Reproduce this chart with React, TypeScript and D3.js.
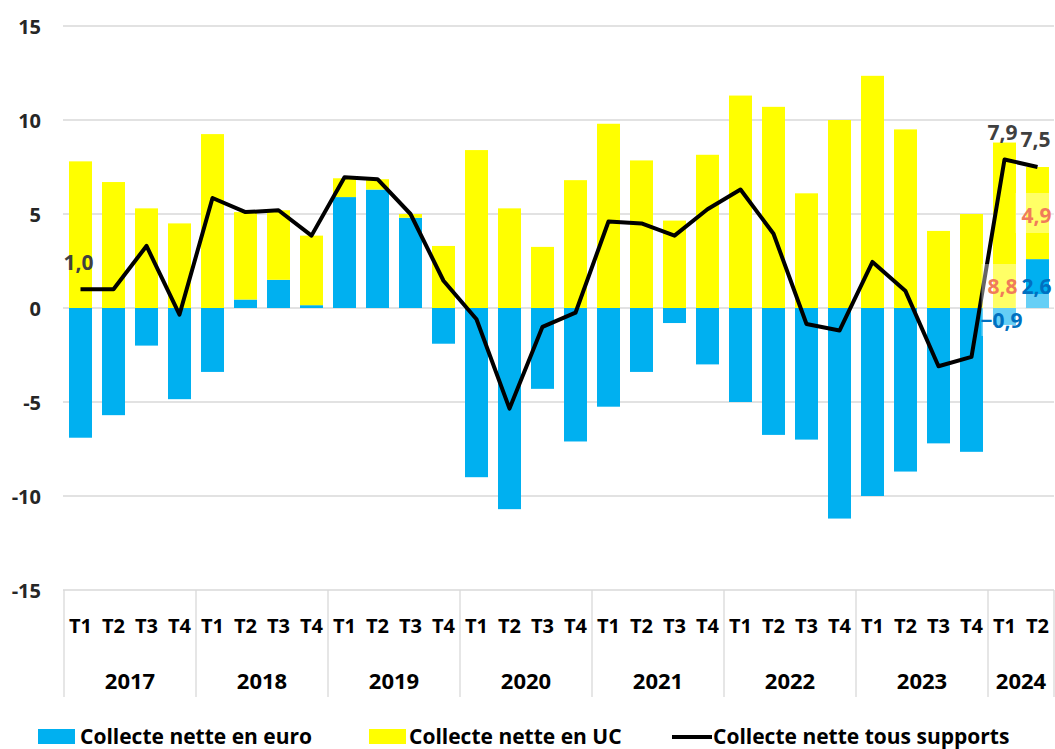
import React from "react";
import * as d3 from "d3";

const categories = [
  "2017 T1", "2017 T2", "2017 T3", "2017 T4",
  "2018 T1", "2018 T2", "2018 T3", "2018 T4",
  "2019 T1", "2019 T2", "2019 T3", "2019 T4",
  "2020 T1", "2020 T2", "2020 T3", "2020 T4",
  "2021 T1", "2021 T2", "2021 T3", "2021 T4",
  "2022 T1", "2022 T2", "2022 T3", "2022 T4",
  "2023 T1", "2023 T2", "2023 T3", "2023 T4",
  "2024 T1", "2024 T2",
];
const years = ["2017", "2018", "2019", "2020", "2021", "2022", "2023", "2024"];

const euro = [
  -6.9, -5.7, -2.0, -4.85,
  -3.4, 0.45, 1.5, 0.15,
  5.9, 6.3, 4.8, -1.9,
  -9.0, -10.7, -4.3, -7.1,
  -5.25, -3.4, -0.8, -3.0,
  -5.0, -6.75, -7.0, -11.2,
  -10.0, -8.7, -7.2, -7.65,
  -0.9, 2.6,
];
const uc = [
  7.8, 6.7, 5.3, 4.5,
  9.25, 4.65, 3.7, 3.7,
  1.0, 0.55, 0.2, 3.3,
  8.4, 5.3, 3.25, 6.8,
  9.8, 7.85, 4.65, 8.15,
  11.3, 10.7, 6.1, 10.0,
  12.35, 9.5, 4.1, 5.0,
  8.8, 4.9,
];
const total = [
  1.0, 1.0, 3.3, -0.35,
  5.85, 5.1, 5.2, 3.85,
  6.95, 6.85, 5.0, 1.45,
  -0.6, -5.35, -1.0, -0.25,
  4.6, 4.5, 3.85, 5.25,
  6.3, 3.95, -0.85, -1.2,
  2.45, 0.9, -3.1, -2.6,
  7.9, 7.5,
];
const yTicks = [-15, -10, -5, 0, 5, 10, 15];

const seriesNames = ["Collecte nette en euro", "Collecte nette en UC", "Collecte nette tous supports"];
const seriesColors = ["#00B0F0", "#FFFF00", "#000000"];

// indices of labelled points
const totalLabelIdx = [0, 28, 29];
const ucLabelIdx = [28, 29];
const euroLabelIdx = [28, 29];

const W = 1055;
const H = 749;
const FONT = "'Open Sans', 'Liberation Sans', Arial, sans-serif";

const fmt = (v: number) => d3.format(".1f")(v).replace(".", ",");

export default function App() {
  const x = d3
    .scaleBand<string>()
    .domain(categories)
    .range([64, 1054])
    .paddingInner(10 / 33)
    .paddingOuter(5 / 33);
  const y = d3.scaleLinear().domain([-15, 15]).range([590, 26]);

  const rows = categories.map((c, i) => ({ cat: c, euro: euro[i], uc: uc[i] }));
  const stacked = d3
    .stack<any>()
    .keys(["euro", "uc"])
    .offset(d3.stackOffsetDiverging)(rows);

  const cx = (i: number) => (x(categories[i]) as number) + x.bandwidth() / 2;

  const line = d3
    .line<number>()
    .x((_, i) => cx(i))
    .y((d) => y(d));

  const step = x.step();
  const x0 = 64;

  // year groups
  const groups: { year: string; start: number; count: number }[] = [];
  years.forEach((yr) => {
    const idx = categories.map((c, i) => (c.startsWith(yr) ? i : -1)).filter((i) => i >= 0);
    groups.push({ year: yr, start: idx[0], count: idx.length });
  });

  const boxes = [
    { i: 28, cxOff: -1, top: y(0) - 44, h: 44 }, // 8,8
    { i: 28, cxOff: -1, top: y(0), h: 28 }, // -0,9
    { i: 29, cxOff: 0, top: y(0) - 115, h: 40 }, // 4,9
    { i: 29, cxOff: 0, top: y(0) - 14, h: 14 }, // 2,6
  ];

  return (
    <svg
      width={W}
      height={H}
      style={{ position: "absolute", left: 0, top: 0, background: "#fff" }}
      fontFamily={FONT}
    >
      {/* gridlines */}
      {yTicks.map((t) => (
        <line key={t} x1={63} x2={1054} y1={y(t)} y2={y(t)} stroke="#D9D9D9" strokeWidth={1.3} />
      ))}
      {/* y tick labels */}
      {yTicks.map((t) => (
        <text
          key={"yl" + t}
          x={41}
          y={y(t)}
          textAnchor="end"
          dominantBaseline="central"
          fontSize={20}
          fontWeight="bold"
          fill="#262626"
        >
          {t}
        </text>
      ))}

      {/* bars */}
      {stacked.map((s, si) => (
        <g key={s.key} fill={seriesColors[si]}>
          {s.map((d, i) => (
            <rect
              key={i}
              x={x(categories[i])}
              width={x.bandwidth()}
              y={y(Math.max(d[0], d[1]))}
              height={Math.abs(y(d[0]) - y(d[1]))}
            />
          ))}
        </g>
      ))}

      {/* total line */}
      <path d={line(total) || ""} fill="none" stroke="#000" strokeWidth={4} strokeLinejoin="round" />

      {/* label boxes */}
      {boxes.map((b, k) => (
        <rect key={"b" + k} x={cx(b.i) + b.cxOff - 22} width={44} y={b.top} height={b.h} fill="#fff" opacity={0.4} />
      ))}

      {/* total labels */}
      {totalLabelIdx.map((i) => (
        <text
          key={"tl" + i}
          x={cx(i) - 2}
          y={y(total[i]) - (i === 29 ? 28 : 27)}
          textAnchor="middle"
          dominantBaseline="central"
          fontSize={21}
          fontWeight="bold"
          fill="#404040"
        >
          {fmt(total[i])}
        </text>
      ))}
      {/* UC labels */}
      {ucLabelIdx.map((i) => (
        <text
          key={"ul" + i}
          x={cx(i) - (i === 28 ? 2 : 1)}
          y={i === 28 ? y(0) - 22 : y(0) - 93}
          textAnchor="middle"
          dominantBaseline="central"
          fontSize={21}
          fontWeight="bold"
          fill="#F07B5A"
        >
          {fmt(uc[i])}
        </text>
      ))}
      {/* euro labels */}
      {euroLabelIdx.map((i) => (
        <text
          key={"el" + i}
          x={cx(i) - (i === 28 ? 3 : 1)}
          y={i === 28 ? y(0) + 12 : y(0) - 22}
          textAnchor="middle"
          dominantBaseline="central"
          fontSize={21}
          fontWeight="bold"
          fill="#0070C0"
        >
          {fmt(euro[i])}
        </text>
      ))}

      {/* category axis */}
      {groups.map((g) => (
        <line
          key={"sep" + g.year}
          x1={x0 + g.start * step}
          x2={x0 + g.start * step}
          y1={590}
          y2={697}
          stroke="#D9D9D9"
          strokeWidth={1.3}
        />
      ))}
      <line x1={1054} x2={1054} y1={590} y2={697} stroke="#D9D9D9" strokeWidth={1.3} />
      {categories.map((c, i) => (
        <text
          key={"q" + i}
          x={cx(i)}
          y={625}
          textAnchor="middle"
          dominantBaseline="central"
          fontSize={20}
          fontWeight="bold"
          fill="#000"
        >
          {c.split(" ")[1]}
        </text>
      ))}
      {groups.map((g) => (
        <text
          key={"yr" + g.year}
          x={x0 + (g.start + g.count / 2) * step}
          y={680}
          textAnchor="middle"
          dominantBaseline="central"
          fontSize={22}
          fontWeight="bold"
          fill="#000"
        >
          {g.year}
        </text>
      ))}

      {/* legend */}
      <g fontSize={21} fontWeight="bold" fill="#000">
        <rect x={38} y={729} width={37} height={15} fill={seriesColors[0]} />
        <text x={80} y={743.5}>{seriesNames[0]}</text>
        <rect x={369} y={729} width={37} height={15} fill={seriesColors[1]} />
        <text x={409} y={743.5}>{seriesNames[1]}</text>
        <line x1={672} x2={712} y1={737} y2={737} stroke={seriesColors[2]} strokeWidth={4} />
        <text x={713} y={743.5}>{seriesNames[2]}</text>
      </g>
    </svg>
  );
}
